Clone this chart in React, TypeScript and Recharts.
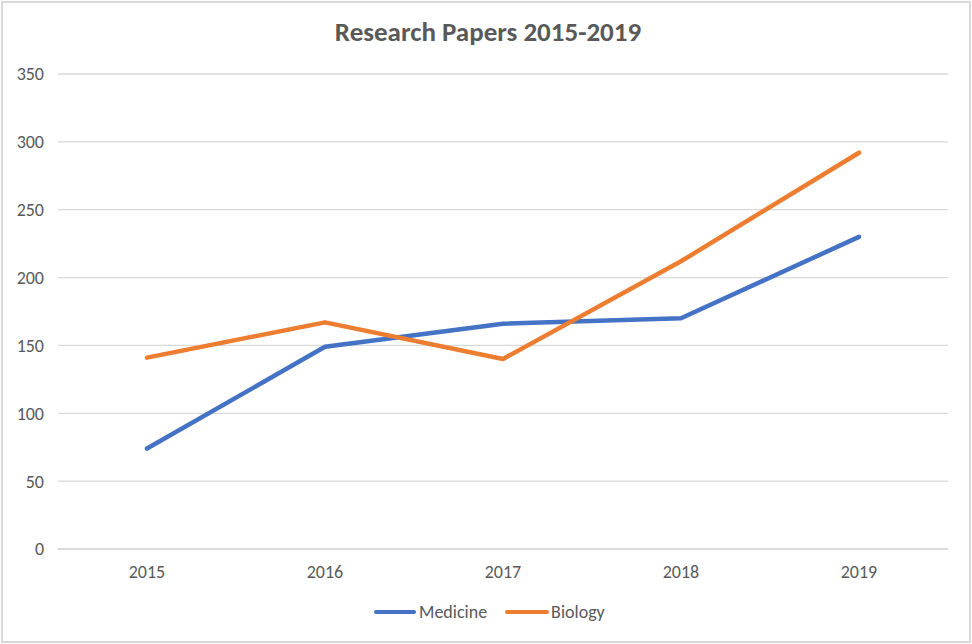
import React from 'react';
import { LineChart, Line, XAxis, YAxis, CartesianGrid } from 'recharts';

const years = ['2015', '2016', '2017', '2018', '2019'];
const medicine = [74, 149, 166, 170, 230];
const biology = [141, 167, 140, 212, 292];
const yTicks = [0, 50, 100, 150, 200, 250, 300, 350];

const data = years.map((year, i) => ({
  year,
  medicine: medicine[i],
  biology: biology[i],
}));

const FONT = "Carlito, Calibri, 'Open Sans', 'Liberation Sans', sans-serif";
const TEXT = '#595959';

const App: React.FC = () => {
  return (
    <div
      style={{
        position: 'fixed',
        left: 0,
        top: 0,
        width: 972,
        height: 644,
        background: '#fff',
        fontFamily: FONT,
      }}
    >
      <div
        style={{
          position: 'absolute',
          left: 1,
          top: 1,
          width: 966,
          height: 638,
          border: '2px solid #D9D9D9',
        }}
      />
      <div
        style={{
          position: 'absolute',
          left: 0,
          top: 15,
          width: 976,
          textAlign: 'center',
          fontSize: 27,
          fontWeight: 700,
          color: TEXT,
          lineHeight: '34px',
        }}
      >
        Research Papers 2015-2019
      </div>
      <div style={{ position: 'absolute', left: 0, top: 0 }}>
        <LineChart
          width={972}
          height={644}
          data={data}
          margin={{ top: 74, right: 24, bottom: 65, left: 0 }}
        >
          <CartesianGrid vertical={false} stroke="#D9D9D9" strokeWidth={1.3} />
          <XAxis
            dataKey="year"
            padding={{ left: 89, right: 89 }}
            axisLine={{ stroke: '#D9D9D9', strokeWidth: 1.3 }}
            tickLine={false}
            tickMargin={10}
            height={30}
            tick={{ fontSize: 18, fill: TEXT, fontFamily: FONT }}
          />
          <YAxis
            domain={[0, 350]}
            ticks={yTicks}
            width={58}
            axisLine={false}
            tickLine={false}
            tickMargin={8}
            tick={{ fontSize: 18, fill: TEXT, fontFamily: FONT }}
          />
          <Line
            type="linear"
            dataKey="medicine"
            name="Medicine"
            stroke="#4472C4"
            strokeWidth={4.5}
            strokeLinecap="round"
            strokeLinejoin="round"
            dot={false}
            isAnimationActive={false}
          />
          <Line
            type="linear"
            dataKey="biology"
            name="Biology"
            stroke="#ED7D31"
            strokeWidth={4.5}
            strokeLinecap="round"
            strokeLinejoin="round"
            dot={false}
            isAnimationActive={false}
          />
        </LineChart>
      </div>
      <div
        style={{
          position: 'absolute',
          left: 374,
          top: 601,
          height: 22,
          display: 'flex',
          alignItems: 'center',
          fontSize: 18,
          color: TEXT,
        }}
      >
        <div style={{ width: 42, height: 4.5, borderRadius: 3, background: '#4472C4', marginRight: 3 }} />
        <span style={{ marginRight: 18 }}>Medicine</span>
        <div style={{ width: 44, height: 4.5, borderRadius: 3, background: '#ED7D31', marginRight: 2 }} />
        <span>Biology</span>
      </div>
    </div>
  );
};

export default App;
